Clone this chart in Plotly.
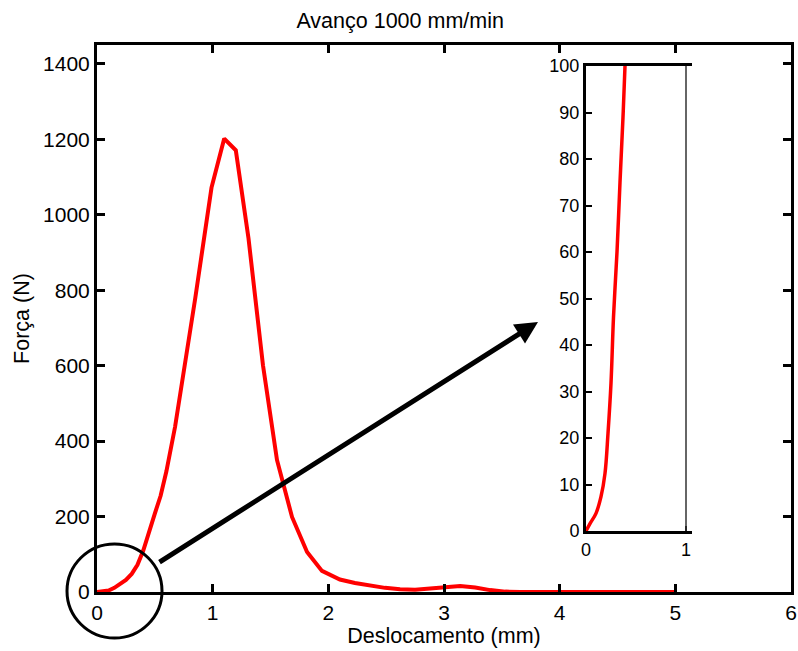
import plotly.graph_objects as go

# ---- data ----
desloc = [0, 0.05, 0.10, 0.15, 0.20, 0.25, 0.30, 0.35, 0.40, 0.45, 0.50, 0.55, 0.60,
          0.675, 0.76, 0.85, 0.99, 1.10, 1.20, 1.31, 1.435, 1.556, 1.686, 1.816,
          1.945, 2.10, 2.23, 2.36, 2.49, 2.62, 2.75, 2.88, 3.01, 3.14, 3.27, 3.40,
          3.53, 3.66, 5.0]
forca = [0, 1, 4, 11, 20, 32, 48, 72, 110, 155, 208, 255, 320,
         438, 597, 780, 1072, 1202, 1171, 937, 601, 350, 199, 106,
         56, 33, 24, 17, 11, 7, 6, 9, 13, 16, 12, 5,
         1, 0, 0]

zoom_x = [0, 0.04, 0.10, 0.15, 0.19, 0.22, 0.25, 0.275, 0.31, 0.34, 0.37, 0.39, 0.40]
zoom_y = [0, 1.6, 3.8, 7.4, 12.4, 21, 31.8, 46, 60, 75, 89, 100, 106]

x_ticks = [0, 1, 2, 3, 4, 5, 6]
y_ticks = [0, 200, 400, 600, 800, 1000, 1200, 1400]
inset_x_ticks = [0, 1]
inset_y_ticks = [0, 10, 20, 30, 40, 50, 60, 70, 80, 90, 100]

title_text = "Avanço 1000 mm/min"
x_title = "Deslocamento (mm)"
y_title = "Força (N)"

FONT = "Liberation Sans, Arial, sans-serif"
W, H = 798, 651
ML, MR, MT, MB = 97, 7, 45, 59
PW, PH = W - ML - MR, H - MT - MB


def px(xp):
    return (xp - ML) / PW


def py(yp):
    return (H - MB - yp) / PH


fig = go.Figure()
fig.add_trace(go.Scatter(x=desloc, y=forca, mode="lines",
                         line=dict(color="#ff0000", width=4),
                         xaxis="x", yaxis="y", showlegend=False, cliponaxis=True))
fig.add_trace(go.Scatter(x=zoom_x, y=zoom_y, mode="lines",
                         line=dict(color="#ff0000", width=3.5, shape="spline"),
                         xaxis="x2", yaxis="y2", showlegend=False))

axis_common = dict(showline=True, linecolor="black", linewidth=3, ticks="inside",
                   tickwidth=3, tickcolor="black", showgrid=False, zeroline=False,
                   automargin=False,
                   tickfont=dict(family=FONT, size=21, color="black"))
inset_common = dict(showline=True, linecolor="black", linewidth=3, ticks="inside",
                    tickwidth=2, tickcolor="black", showgrid=False, zeroline=False,
                    automargin=False,
                    tickfont=dict(family=FONT, size=18, color="black"))

fig.update_layout(
    width=W, height=H,
    margin=dict(l=ML, r=MR, t=MT, b=MB, autoexpand=False),
    paper_bgcolor="white", plot_bgcolor="white",
    title=dict(text=title_text, x=px(445), xanchor="center", y=1 - 20 / H,
               yanchor="middle", font=dict(family=FONT, size=21.5, color="black")),
    xaxis=dict(domain=[0, 1], range=[0, 6], tickvals=x_ticks, mirror="allticks",
               ticklen=8, title=dict(text=x_title, standoff=4,
                                     font=dict(family=FONT, size=21.5, color="black")),
               **axis_common),
    yaxis=dict(domain=[0, 1], range=[0, 1450], tickvals=y_ticks, mirror="allticks",
               ticklen=8, title=dict(text=y_title, standoff=8,
                                     font=dict(family=FONT, size=21.5, color="black")),
               **axis_common),
    xaxis2=dict(domain=[px(586), px(692)], range=[0, 1.06], tickvals=inset_x_ticks,
                anchor="y2", mirror=True, ticklen=5, **inset_common),
    yaxis2=dict(domain=[py(531), py(66)], range=[0, 100], tickvals=inset_y_ticks,
                anchor="x2", mirror=False, ticklen=6, **inset_common),
)

# thin right border of the inset at x = 1
fig.add_shape(type="line", xref="x2", yref="y2", x0=1, x1=1, y0=0, y1=100,
              line=dict(color="#333333", width=1.5))

# circle around the origin region
fig.add_shape(type="circle", xref="paper", yref="paper",
              x0=px(67), x1=px(162), y0=py(638), y1=py(544),
              line=dict(color="black", width=3))

# arrow towards the inset
fig.add_annotation(xref="paper", yref="paper", x=px(538), y=py(322),
                   ax=158 - 538, ay=563 - 322, axref="pixel", ayref="pixel",
                   showarrow=True, arrowhead=2, arrowsize=0.9, arrowwidth=5,
                   arrowcolor="black", text="")

fig.write_html("out.html")
